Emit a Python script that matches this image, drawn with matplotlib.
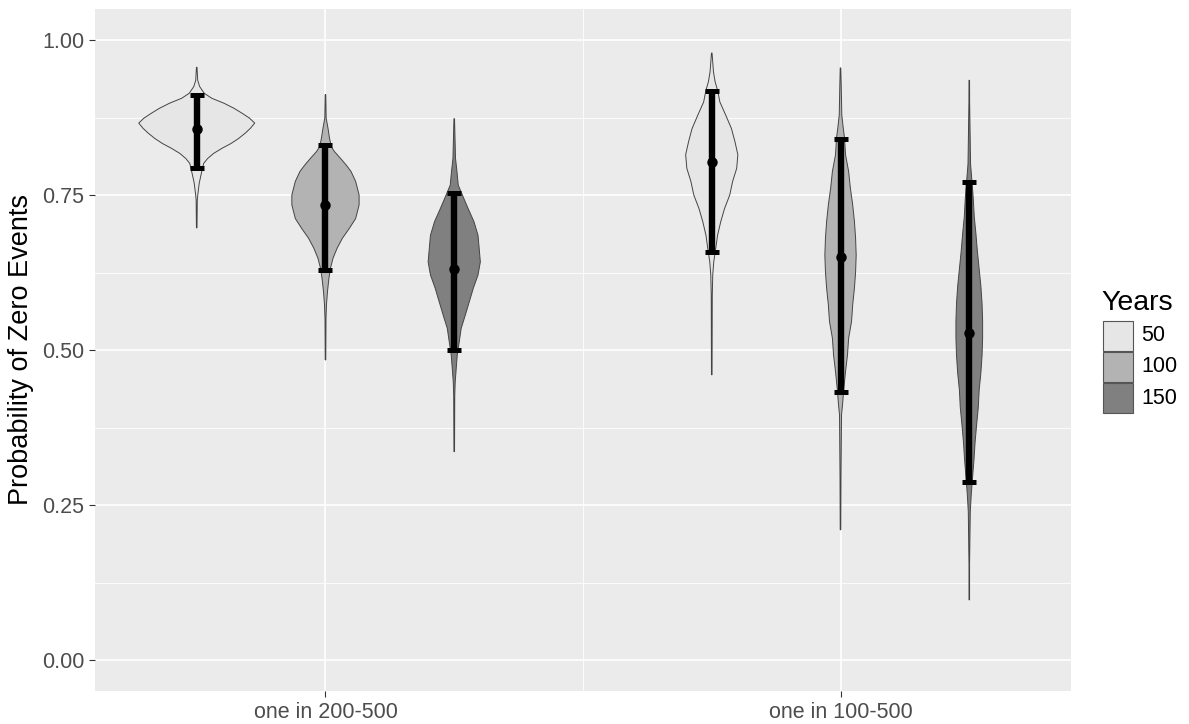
import numpy as np
import matplotlib
matplotlib.use("Agg")
import matplotlib.pyplot as plt
from matplotlib.patches import Rectangle

plt.rcParams['font.family'] = ['Liberation Sans', 'DejaVu Sans']

# ---------------- data ----------------
categories = ["one in 200-500", "one in 100-500"]
years = ["50", "100", "150"]
fill_colors = ["#E6E6E6", "#B3B3B3", "#808080"]

# error bars (lower, middle, upper) per violin, order: cat1 50/100/150, cat2 50/100/150
err_lower = [0.794, 0.629, 0.4995, 0.658, 0.432, 0.287]
err_mid = [0.856, 0.734, 0.630, 0.804, 0.650, 0.528]
err_upper = [0.912, 0.830, 0.754, 0.918, 0.840, 0.771]

# violin outlines: y values and relative density (half-width relative to widest violin)
v1_y = [0.956, 0.935, 0.925, 0.914, 0.906, 0.898, 0.890, 0.882, 0.874, 0.866, 0.858, 0.850,
        0.841, 0.833, 0.825, 0.817, 0.809, 0.801, 0.785, 0.769, 0.753, 0.742, 0.697]
v1_d = [0.005, 0.017, 0.05, 0.13, 0.26, 0.47, 0.64, 0.78, 0.91, 1.0, 0.93, 0.84,
        0.72, 0.59, 0.43, 0.29, 0.19, 0.12, 0.08, 0.043, 0.022, 0.01, 0.005]

v2_y = [0.912, 0.874, 0.858, 0.842, 0.828, 0.820, 0.809, 0.798, 0.788, 0.772, 0.750, 0.734,
        0.712, 0.696, 0.680, 0.664, 0.648, 0.632, 0.616, 0.594, 0.573, 0.551, 0.484]
v2_d = [0.005, 0.012, 0.043, 0.069, 0.10, 0.155, 0.26, 0.36, 0.44, 0.52, 0.58, 0.58,
        0.52, 0.41, 0.29, 0.20, 0.13, 0.086, 0.06, 0.034, 0.017, 0.009, 0.005]

v3_y = [0.873, 0.809, 0.788, 0.766, 0.750, 0.728, 0.707, 0.685, 0.664, 0.642, 0.621, 0.600,
        0.578, 0.556, 0.535, 0.513, 0.492, 0.470, 0.449, 0.427, 0.336]
v3_d = [0.005, 0.022, 0.047, 0.069, 0.14, 0.24, 0.34, 0.41, 0.43, 0.45, 0.41, 0.33,
        0.26, 0.19, 0.12, 0.086, 0.052, 0.034, 0.017, 0.009, 0.005]

v4_y = [0.979, 0.949, 0.933, 0.919, 0.900, 0.879, 0.857, 0.836, 0.815, 0.793, 0.772, 0.750,
        0.728, 0.707, 0.685, 0.664, 0.642, 0.621, 0.589, 0.460]
v4_d = [0.005, 0.029, 0.057, 0.10, 0.14, 0.24, 0.34, 0.40, 0.45, 0.43, 0.36, 0.31,
        0.22, 0.155, 0.10, 0.069, 0.034, 0.017, 0.009, 0.005]

v5_y = [0.955, 0.927, 0.879, 0.858, 0.842, 0.815, 0.788, 0.761, 0.734, 0.707, 0.680, 0.653,
        0.626, 0.600, 0.573, 0.546, 0.519, 0.492, 0.465, 0.438, 0.411, 0.395, 0.300, 0.210]
v5_d = [0.005, 0.012, 0.022, 0.047, 0.069, 0.086, 0.14, 0.17, 0.21, 0.24, 0.26, 0.27,
        0.26, 0.24, 0.21, 0.19, 0.14, 0.12, 0.086, 0.057, 0.034, 0.017, 0.009, 0.005]

v6_y = [0.935, 0.900, 0.800, 0.771, 0.744, 0.715, 0.687, 0.659, 0.631, 0.603, 0.575, 0.547,
        0.519, 0.491, 0.463, 0.435, 0.407, 0.379, 0.351, 0.323, 0.295, 0.267, 0.239, 0.155, 0.097]
v6_d = [0.005, 0.006, 0.022, 0.047, 0.069, 0.086, 0.115, 0.14, 0.17, 0.20, 0.22, 0.23,
        0.23, 0.22, 0.20, 0.17, 0.155, 0.126, 0.10, 0.081, 0.057, 0.034, 0.017, 0.005, 0.005]

violin_y = [v1_y, v2_y, v3_y, v4_y, v5_y, v6_y]
violin_d = [v1_d, v2_d, v3_d, v4_d, v5_d, v6_d]

# ---------------- layout ----------------
W, H = 1189, 724
fig = plt.figure(figsize=(W / 100, H / 100), dpi=100)
fig.patch.set_facecolor("white")
ax = fig.add_axes([95 / W, 33 / H, 976 / W, 682 / H])
ax.set_facecolor("#EBEBEB")
for s in ax.spines.values():
    s.set_visible(False)

ax.set_xlim(0.5525, 2.4475)
ax.set_ylim(-0.05, 1.05)

max_half = 0.1126
dodge = 0.25
outline = "#444444"

idx = 0
for ci, cat in enumerate(categories):
    for gi, yr in enumerate(years):
        cx = (ci + 1) + (gi - 1) * dodge
        y = np.array(violin_y[idx])
        hw = np.array(violin_d[idx]) * max_half
        xs = np.concatenate([cx - hw, (cx + hw)[::-1]])
        ys = np.concatenate([y, y[::-1]])
        ax.fill(xs, ys, facecolor=fill_colors[gi], edgecolor=outline, lw=0.7, zorder=2)
        lo, mid, hi = err_lower[idx], err_mid[idx], err_upper[idx]
        ax.errorbar([cx], [mid], yerr=[[mid - lo], [hi - mid]], fmt="o", color="black",
                    ms=6.5, elinewidth=4.6, capsize=5, capthick=3.6, zorder=3)
        idx += 1

# ticks and grid
ax.set_yticks([0, 0.25, 0.5, 0.75, 1.0])
ax.set_yticklabels(["0.00", "0.25", "0.50", "0.75", "1.00"])
ax.set_yticks([0.125, 0.375, 0.625, 0.875], minor=True)
ax.set_xticks([1, 2])
ax.set_xticklabels(categories)
ax.set_xticks([1.5], minor=True)
ax.tick_params(which="major", length=4.3, width=0.8, color="#333333",
               labelcolor="#4D4D4D", labelsize=15.5, pad=3.5)
ax.tick_params(which="minor", length=0)
ax.grid(which="major", color="white", lw=1.2, zorder=0)
ax.grid(which="minor", color="white", lw=0.6, zorder=0)
ax.set_axisbelow(True)

fig.text(21 / W, 1 - 350 / H, "Probability of Zero Events", rotation=90,
         ha="center", va="center", fontsize=19.5, color="black")

# legend
fig.text(1101 / W, 1 - 310 / H, "Years", ha="left", va="baseline", fontsize=20.5, color="black")
key_top = [321, 352, 383]
for gi, yr in enumerate(years):
    top = key_top[gi]
    fig.add_artist(Rectangle((1103 / W, 1 - (top + 30) / H), 30 / W, 30 / H,
                             transform=fig.transFigure, facecolor=fill_colors[gi],
                             edgecolor="#555555", lw=0.8))
    fig.text(1141 / W, 1 - (top + 15) / H, yr, ha="left", va="center",
             fontsize=15.5, color="black")

fig.savefig("out.png", dpi=100)
